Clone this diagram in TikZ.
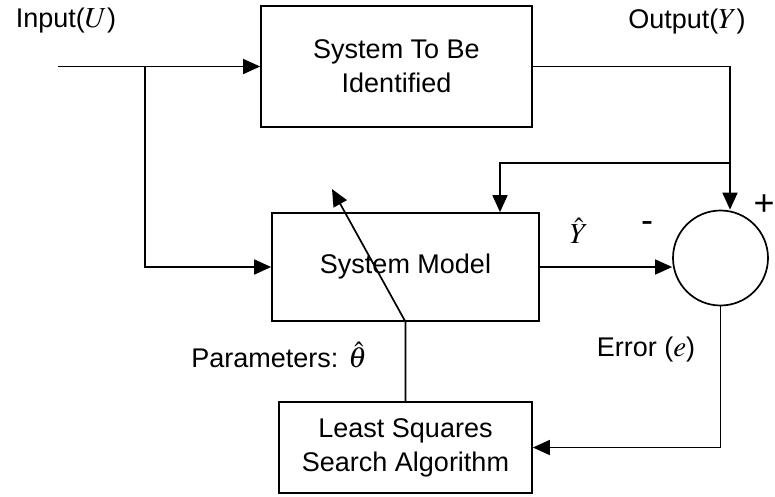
\documentclass[tikz,border=0pt]{standalone}
\usepackage{mathptmx}
\usepackage{fontspec}
\setmainfont{Liberation Sans}
\usetikzlibrary{arrows.meta,positioning}

\tikzset{
	blk/.style={draw,rectangle,align=center,inner sep=0pt},
	lbl/.style={inner sep=0pt},
	sgn/.style={inner sep=0pt,font=\fontsize{36}{36}\selectfont},
	>={Triangle[length=17pt,width=15pt]}
}
\newcommand{\symm}[1]{{\fontsize{29}{34}\selectfont$#1$}}

\begin{document}
\begin{tikzpicture}[x=1pt,y=-1pt,line width=1.7pt,font=\fontsize{27}{34}\selectfont]
	\useasboundingbox (0,0) rectangle (775,496);

	%BLOCKS
	\node[blk,minimum width=271pt,minimum height=121pt] (sysid) at (396.5,66.5) {System To Be\\Identified};
	\node[blk,minimum width=267pt,minimum height=108pt] (model) at (405.5,267) {System Model};
	\node[blk,minimum width=253pt,minimum height=91pt] (lsq) at (405.5,447.5) {Least Squares\\Search Algorithm};
	\node[draw,circle,minimum size=95pt,inner sep=0pt] (sum) at (720.5,258) {};

	\coordinate (u) at (58,66.5);	%input end
	\coordinate (ubr) at (145,66.5);
	\coordinate (ytap) at (730,163);
	\coordinate (fb) at (500,163);
	\coordinate (ptip) at (332,189);

	%CONNECTORS
	\draw[->] (u)--(sysid.west);
	\draw[->] (ubr) |- (model.west);
	\draw[->] (sysid.east) -| (ytap) -- (ytap |- sum.north);
	\draw[->] (ytap)--(fb)--(fb |- model.north);
	\draw[->] (model.east)--(model.east -| sum.west);
	\draw[->] (sum.south) |- (lsq.east);
	\draw[->] (lsq.north)--(model.south)--(ptip);

	%LABELS
	\node[lbl] (uin) at (66,21) {Input(\symm{U})};
	\node[lbl] (yout) at (687,22) {Output(\symm{Y})};
	\node[lbl] (yhat) at (579,231) {\symm{\hat{Y}}};
	\node[sgn] (minus) at (647,227) {-};
	\node[sgn] (plus) at (764,205) {+};
	\node[lbl] (err) at (646,350) {Error (\symm{e})};
	\node[lbl] (par) at (279,355) {Parameters: \symm{\hat{\theta}}};
\end{tikzpicture}
\end{document}
